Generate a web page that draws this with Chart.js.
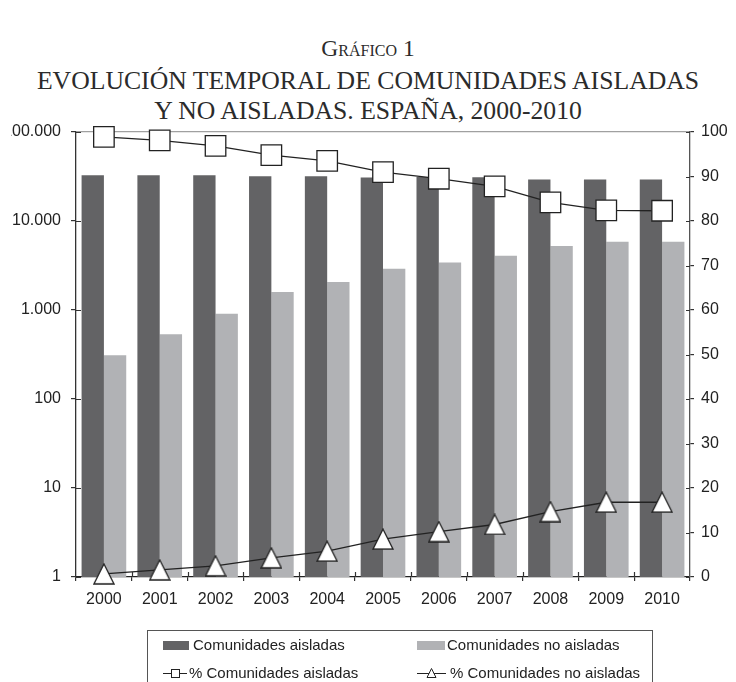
<!DOCTYPE html>
<html><head><meta charset="utf-8">
<script src="https://cdn.jsdelivr.net/npm/chart.js"></script>
<style>
html,body{margin:0;padding:0;background:#fff;}
body{width:736px;height:682px;position:relative;overflow:hidden;}
.t{position:absolute;left:0;width:736px;text-align:center;font-family:"Liberation Serif","Times New Roman",serif;color:#2b2b2b;white-space:nowrap;}
#t0{top:35px;font-size:23.5px;line-height:26px;font-variant:small-caps;}
#t1{top:66px;font-size:25.7px;line-height:30px;}
#clip{position:absolute;left:11px;top:0;width:725px;height:682px;overflow:hidden;}
#box{position:absolute;left:-11px;top:0;width:736px;height:682px;}
</style></head><body>
<div class="t" id="t0">Gráfico 1</div>
<div class="t" id="t1">EVOLUCIÓN TEMPORAL DE COMUNIDADES AISLADAS<br>Y NO AISLADAS. ESPAÑA, 2000-2010</div>
<div id="clip"><div id="box"><canvas id="c"></canvas></div></div>
<script>
const years = ['2000','2001','2002','2003','2004','2005','2006','2007','2008','2009','2010'];
const aisladas = [32700,32700,32700,31900,31900,30800,31300,31100,29300,29300,29300];
const noAisladas = [310,534,908,1592,2061,2909,3428,4067,5228,5848,5848];
const pctAisladas = [98.9,98.1,96.9,94.8,93.5,91.0,89.5,87.8,84.2,82.4,82.3];
const pctNoAisladas = [0.7,1.6,2.5,4.3,5.8,8.5,10.2,11.8,14.7,16.8,16.8];
const leftTickValues = [1,10,100,1000,10000,100000];
const leftTickLabels = ['1','10','100','1.000','10.000','100.000'];
const rightTickValues = [0,10,20,30,40,50,60,70,80,90,100];
const rightTickLabels = ['0','10','20','30','40','50','60','70','80','90','100'];
const seriesLabels = ['Comunidades aisladas','Comunidades no aisladas','% Comunidades aisladas','% Comunidades no aisladas'];

const DARK = '#636365', LIGHT = '#b1b2b5', INK = '#222';

function makeTriangle(w, h, lw){
  const c = document.createElement('canvas');
  c.width = w + 2; c.height = h + 2;
  const g = c.getContext('2d');
  g.beginPath();
  g.moveTo((w + 2) / 2, 1); g.lineTo(w + 1, h + 1); g.lineTo(1, h + 1); g.closePath();
  g.fillStyle = '#fff'; g.fill();
  g.lineWidth = lw; g.strokeStyle = INK; g.lineJoin = 'miter'; g.stroke();
  return c;
}
const triBig = makeTriangle(20, 20, 1.3);

Chart.defaults.font.family = '"Liberation Sans", Arial, sans-serif';
Chart.defaults.font.size = 16;
Chart.defaults.color = INK;

const crossTicks = {
  id: 'crossTicks',
  afterDraw(chart){
    const {ctx, chartArea: a, scales} = chart;
    ctx.save();
    ctx.strokeStyle = '#333'; ctx.lineWidth = 1.2;
    ctx.beginPath();
    scales.y.ticks.forEach(t => { const p = Math.round(scales.y.getPixelForValue(t.value)) + 0.5; ctx.moveTo(a.left, p); ctx.lineTo(a.left + 5, p); });
    scales.y1.ticks.forEach(t => { const p = Math.round(scales.y1.getPixelForValue(t.value)) + 0.5; ctx.moveTo(a.right - 4, p); ctx.lineTo(a.right, p); });
    for (let i = 1; i < years.length; i++) {
      const p = Math.round(scales.x.getPixelForValue(i - 0.5)) + 0.5;
      ctx.moveTo(p, a.bottom); ctx.lineTo(p, a.bottom - 5);
    }
    ctx.stroke();
    ctx.restore();
  }
};

const legendBox = {
  id: 'legendBox',
  afterDraw(chart){
    const ctx = chart.ctx, ds = chart.data.datasets;
    ctx.save();
    ctx.strokeStyle = '#555'; ctx.lineWidth = 1;
    ctx.strokeRect(147.5, 630.5, 505, 70);
    ctx.font = '15px "Liberation Sans", Arial, sans-serif';
    ctx.textBaseline = 'middle'; ctx.textAlign = 'left';
    ctx.fillStyle = ds[0].backgroundColor; ctx.fillRect(163, 641, 26, 9);
    ctx.fillStyle = INK; ctx.fillText(ds[0].label, 193, 646);
    ctx.fillStyle = ds[1].backgroundColor; ctx.fillRect(417, 641, 28, 9);
    ctx.fillStyle = INK; ctx.fillText(ds[1].label, 447, 646);
    const y2 = 673.5;
    ctx.strokeStyle = INK; ctx.lineWidth = 1;
    ctx.beginPath(); ctx.moveTo(163, y2); ctx.lineTo(187, y2); ctx.stroke();
    ctx.fillStyle = '#fff'; ctx.fillRect(171.5, y2 - 4, 8, 8); ctx.strokeRect(171.5, y2 - 4, 8, 8);
    ctx.fillStyle = INK; ctx.fillText(ds[2].label, 189, y2);
    ctx.beginPath(); ctx.moveTo(417, y2); ctx.lineTo(446, y2); ctx.stroke();
    ctx.beginPath(); ctx.moveTo(431.5, y2 - 5); ctx.lineTo(436, y2 + 4); ctx.lineTo(427, y2 + 4); ctx.closePath();
    ctx.fillStyle = '#fff'; ctx.fill(); ctx.stroke();
    ctx.fillStyle = INK; ctx.fillText(ds[3].label, 450, y2);
    ctx.restore();
  }
};

new Chart(document.getElementById('c'), {
  type: 'bar',
  data: {
    labels: years,
    datasets: [
      { label: seriesLabels[0], data: aisladas, backgroundColor: DARK, borderWidth: 0, yAxisID: 'y', order: 2 },
      { label: seriesLabels[1], data: noAisladas, backgroundColor: LIGHT, borderWidth: 0, yAxisID: 'y', order: 2 },
      { type: 'line', label: seriesLabels[2], data: pctAisladas, yAxisID: 'y1', order: 0,
        borderColor: INK, borderWidth: 1.3, tension: 0, clip: false,
        pointStyle: 'rect', pointRadius: 14.5, pointBorderWidth: 1.3, pointBorderColor: INK, pointBackgroundColor: '#fff' },
      { type: 'line', label: seriesLabels[3], data: pctNoAisladas, yAxisID: 'y1', order: 1,
        borderColor: INK, borderWidth: 1.3, tension: 0, clip: false,
        pointStyle: triBig, pointRadius: 11 }
    ]
  },
  options: {
    responsive: true, maintainAspectRatio: false, animation: false,
    layout: { padding: { top: 132, bottom: 75, left: 0, right: 0 } },
    categoryPercentage: 0.8, barPercentage: 1.0,
    plugins: { legend: { display: false }, tooltip: { enabled: false }, title: { display: false } },
    scales: {
      x: {
        type: 'category', offset: true,
        grid: { offset: true, drawOnChartArea: false, color: '#333', tickLength: 4, lineWidth: 1.2 },
        border: { display: true, color: '#222', width: 1.3 },
        ticks: { padding: 9, maxRotation: 0, font: { size: 16 }, color: INK },
        afterFit(s){ s.height = 30; }
      },
      y: {
        type: 'logarithmic', position: 'left', min: 1, max: 100000,
        afterBuildTicks(s){ s.ticks = leftTickValues.map(v => ({ value: v })); },
        ticks: { padding: 10, font: { size: 16 }, color: INK, callback: (v, i) => leftTickLabels[i] },
        grid: { drawOnChartArea: true, tickLength: 5, tickColor: '#333', lineWidth: 1.2,
                color: c => (c.tick && c.tick.value === 100000) ? '#a0a0a0' : 'rgba(0,0,0,0)' },
        border: { display: true, color: '#333', width: 1.3 },
        afterFit(s){ s.width = 76; }
      },
      y1: {
        type: 'linear', position: 'right', min: 0, max: 100,
        afterBuildTicks(s){ s.ticks = rightTickValues.map(v => ({ value: v })); },
        ticks: { padding: 7, font: { size: 16 }, color: INK, callback: (v, i) => rightTickLabels[i] },
        grid: { drawOnChartArea: false, tickLength: 4, color: '#333', lineWidth: 1.2 },
        border: { display: true, color: '#555', width: 1.3 },
        afterFit(s){ s.width = 46; }
      }
    }
  },
  plugins: [crossTicks, legendBox]
});
</script>
</body></html>
